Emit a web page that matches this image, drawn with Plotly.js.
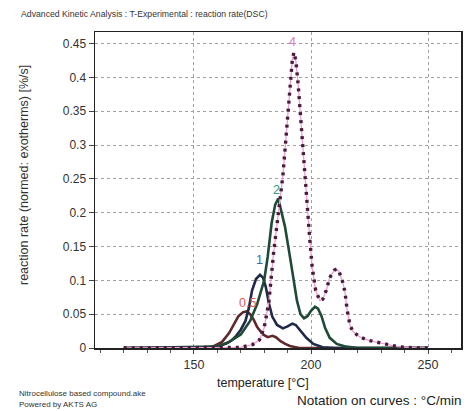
<!DOCTYPE html>
<html><head><meta charset="utf-8">
<script src="https://cdn.plot.ly/plotly-3.0.1.min.js"></script>
<style>html,body{margin:0;padding:0;background:#fff}#c{width:473px;height:411px}</style>
</head><body><div id="c"></div>
<script>
// heating rates (°C/min) — curve labels
const rateLabels = ['0.5', '1', '2', '4'];

// curve 0.5
const t05 = [120, 150, 158, 162, 165, 167, 169, 171, 172.5, 174, 175.5, 177, 179.5, 181.5, 183.5, 185, 187, 189, 191, 195, 250];
const r05 = [0, 0, 0.002, 0.009, 0.022, 0.035, 0.047, 0.053, 0.054, 0.05, 0.042, 0.031, 0.02, 0.016, 0.018, 0.016, 0.01, 0.006, 0.003, 0, 0];

// curve 1
const t1 = [120, 155, 160, 164, 166, 168, 170, 172, 173.5, 174.8, 176.5, 178.2, 179.5, 180.7, 182, 183.5, 185.5, 188, 190, 192, 193.5, 195.5, 198, 201, 205, 210, 250];
const r1 = [0, 0, 0.002, 0.007, 0.011, 0.018, 0.027, 0.04, 0.06, 0.085, 0.102, 0.108, 0.104, 0.09, 0.066, 0.046, 0.034, 0.029, 0.032, 0.036, 0.034, 0.026, 0.015, 0.006, 0.001, 0, 0];

// curve 2
const t2 = [120, 160, 165, 170, 174, 177, 180, 181.5, 183.2, 184.7, 186, 187.2, 188.9, 191, 192.5, 194, 195.5, 197, 198.5, 200, 201.7, 203, 204.5, 206, 208, 211, 215, 220, 250];
const r2 = [0, 0.002, 0.009, 0.02, 0.04, 0.065, 0.1, 0.135, 0.185, 0.212, 0.221, 0.205, 0.179, 0.135, 0.1, 0.07, 0.05, 0.044, 0.047, 0.055, 0.061, 0.058, 0.047, 0.03, 0.015, 0.006, 0.002, 0, 0];

// curve 4
const t4 = [120, 170, 175, 178, 180, 182, 184, 186, 188, 190, 191, 192, 192.7, 193.5, 194.5, 195.5, 197, 198.2, 199.5, 200.5, 202, 203.8, 205, 206.5, 208, 210, 211, 212, 213.5, 214.5, 215.5, 216.7, 218, 221, 225, 231, 237, 245, 250];
const r4 = [0, 0.001, 0.005, 0.012, 0.03, 0.068, 0.14, 0.2, 0.255, 0.34, 0.39, 0.425, 0.437, 0.425, 0.39, 0.34, 0.27, 0.22, 0.16, 0.12, 0.085, 0.07, 0.072, 0.085, 0.104, 0.115, 0.117, 0.113, 0.098, 0.083, 0.055, 0.033, 0.024, 0.016, 0.011, 0.006, 0.002, 0, 0];

// label positions (temperature, rate)
const labelT = [172.9, 178.2, 185.3, 192.3];
const labelR = [0.066, 0.13, 0.234, 0.452];
const labelColors = ['#e05a5a', '#3a6ab0', '#2fa070', '#d878c0'];

const xTicks = [150, 200, 250];
const yTicks = [0, 0.05, 0.1, 0.15, 0.2, 0.25, 0.3, 0.35, 0.4, 0.45];

const traces = [
  {x: t05, y: r05, mode: 'lines', line: {color: '#5e2a2c', width: 2.6}, hoverinfo: 'skip'},
  {x: t1, y: r1, mode: 'lines', line: {color: '#1e2a48', width: 2.6}, hoverinfo: 'skip'},
  {x: t2, y: r2, mode: 'lines', line: {color: '#1f4a36', width: 2.6}, hoverinfo: 'skip'},
  {x: t4, y: r4, mode: 'lines', line: {color: '#e8a0d4', width: 1.3}, hoverinfo: 'skip'},
  {x: t4, y: r4, mode: 'lines', line: {color: '#4a1a3c', width: 3.4, dash: '3px,5px'}, hoverinfo: 'skip'}
];

const FF = 'Liberation Sans, Arial';
const annotations = rateLabels.map((s, i) => ({
  x: labelT[i], y: labelR[i], xref: 'x', yref: 'y', text: s, showarrow: false,
  font: {family: FF, size: 12.5, color: labelColors[i]}
}));

const W = 473, H = 411, L = 95, R = 12, T = 32, B = 63;
const pw = W - L - R, ph = H - T - B;
function px(xp) { return (xp - L) / pw; }
function py(yp) { return (H - B - yp) / ph; }
function note(text, x, y, xa, size, color, angle) {
  annotations.push({xref: 'paper', yref: 'paper', x: px(x), y: py(y), xanchor: xa, yanchor: 'middle',
    text: text, showarrow: false, textangle: angle || 0, font: {family: FF, size: size, color: color}});
}
note('Advanced Kinetic Analysis : T-Experimental : reaction rate(DSC)', 19, 14, 'left', 8.7, '#333');
note('reaction rate (normed: exotherms) [%/s]', 24, 175, 'center', 12.5, '#333', -90);
note('temperature [°C]', 263, 383, 'center', 12.5, '#222');
note('Nitrocellulose based compound.ake', 17, 393, 'left', 8, '#333');
note('Powered by AKTS AG', 17, 404, 'left', 8, '#333');
note('Notation on curves : °C/min', 463, 400, 'right', 13.5, '#222');

const layout = {
  width: W, height: H,
  margin: {l: L, r: R, t: T, b: B, pad: 0},
  paper_bgcolor: '#fff', plot_bgcolor: '#fff',
  showlegend: false,
  font: {family: FF, size: 11, color: '#333'},
  xaxis: {
    range: [107.7, 264.1], tickvals: xTicks, ticktext: xTicks.map(String),
    ticks: 'outside', ticklen: 4, tickcolor: '#444', tickfont: {size: 12.5, color: '#333'},
    showline: true, linecolor: '#222', linewidth: 1.5, mirror: true,
    showgrid: true, gridcolor: '#a0a0a0', griddash: 'dot', gridwidth: 1,
    minor: {dtick: 10, tick0: 0, ticks: 'outside', ticklen: 3, tickcolor: '#555', showgrid: false},
    zeroline: false
  },
  yaxis: {
    range: [0, 0.467], tickvals: yTicks, ticktext: yTicks.map(v => String(v)),
    ticks: 'outside', ticklen: 5, tickcolor: '#444', tickfont: {size: 12, color: '#333'},
    showline: true, linecolor: '#222', linewidth: 1.5, mirror: true,
    showgrid: true, gridcolor: '#a0a0a0', griddash: 'dot', gridwidth: 1,
    zeroline: false
  },
  annotations: annotations
};

Plotly.newPlot('c', traces, layout, {staticPlot: true, displayModeBar: false});
</script>
</body></html>
